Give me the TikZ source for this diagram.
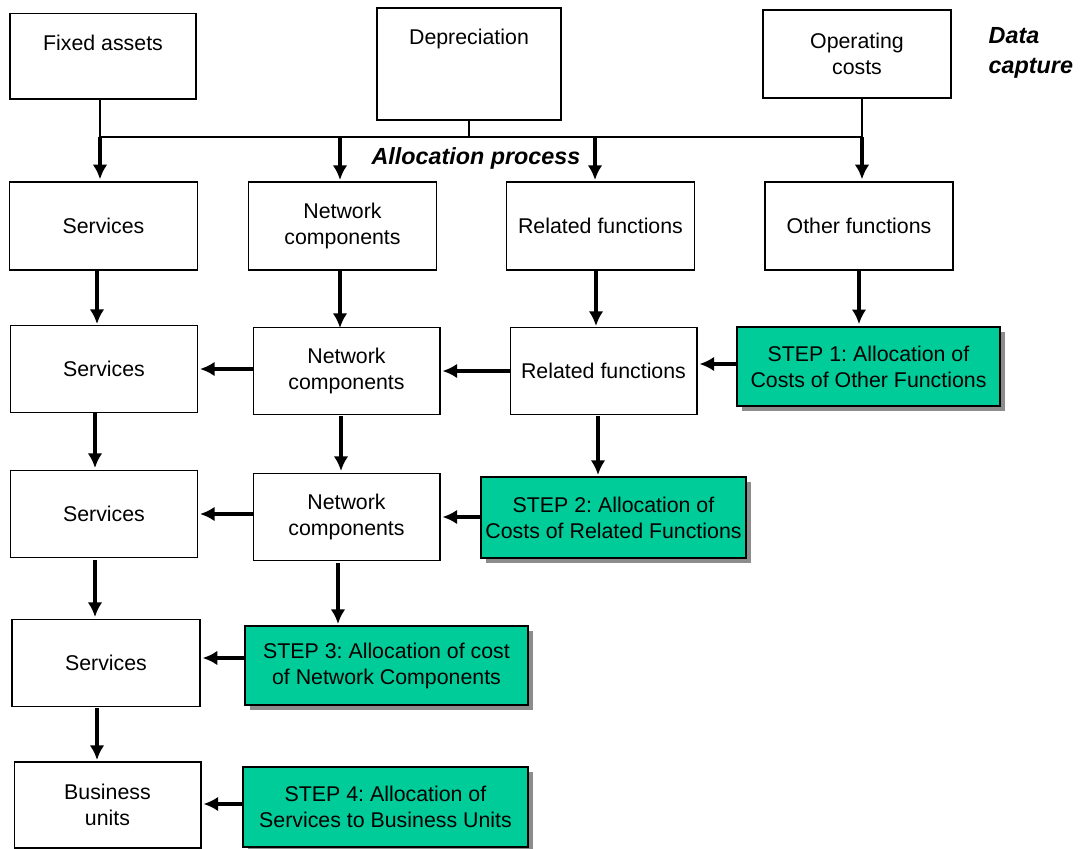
\documentclass[tikz,border=0pt]{standalone}
\usepackage{fontspec}
\setmainfont{Liberation Sans}
\usetikzlibrary{arrows.meta,shadows}
\definecolor{stepgreen}{RGB}{0,204,153}
\frenchspacing

\begin{document}
\begin{tikzpicture}[x=0.75pt,y=-0.75pt,>={Latex[length=11pt,width=11pt]},
    font=\fontsize{16pt}{19.5pt}\selectfont,
    box/.style={draw,line width=1pt,fill=white,align=center,inner sep=0pt,minimum width=140pt,minimum height=65pt},
    stepbox/.style={draw,line width=1.5pt,fill=stepgreen,align=center,inner sep=0pt,minimum height=60pt,
        general shadow={fill=black!45,shadow xshift=3.5pt,shadow yshift=-3.5pt}},
    conn/.style={->,line width=2.8pt,shorten >=1.5pt},
    feed/.style={line width=0.9pt}]
                \useasboundingbox (0,0) rectangle (1085,849);
                % data capture
                \node[box,minimum width=139.5pt,minimum height=64pt,label={[anchor=center,yshift=-22.5pt]north:Fixed assets}] (fixed) at (103,56.5) {};
                \node[box,minimum width=138pt,minimum height=84pt,label={[anchor=center,yshift=-24pt]north:Depreciation}] (dep) at (469,64) {};
                \node[box,minimum width=141pt,minimum height=66pt] (opc) at (857,54) {Operating\\costs};
                \node[align=left,anchor=west,font=\fontsize{17.5pt}{22.5pt}\selectfont\bfseries\itshape] (cap) at (984,53) {Data\\capture};
                \coordinate (busL) at (100,137);
                \coordinate (busR) at (862,137);
                \draw[feed] (fixed.south -| busL) -- (busL) -- (busR) -- (busR |- opc.south);
                \draw[feed] (dep.south) -- (dep.south |- busL);
                \node[font=\fontsize{17.5pt}{19.5pt}\selectfont\bfseries\itshape] (alloc) at (476,158) {Allocation process};
                % allocation rows
                \node[box,minimum width=141pt,minimum height=66pt] (srvA) at (103.5,226) {Services};
                \node[box,minimum width=141pt,minimum height=66pt] (ncA) at (342.5,226) {Network\\components};
                \node[box,minimum width=141pt,minimum height=66pt] (rfA) at (600.5,226) {Related functions};
                \node[box,minimum width=141pt,minimum height=66pt] (ofA) at (859,226) {Other functions};
                \draw[conn] (busL) -- (busL |- srvA.north);
                \draw[conn] (340,137) -- (340,182);
                \draw[conn] (595,137) -- (595,182);
                \draw[conn] (busR) -- (busR |- ofA.north);

                \node[box] (srvB) at (104,369) {Services};
                \node[box] (ncB) at (346.5,371) {Network\\components};
                \node[box] (rfB) at (603.5,371) {Related functions};
                \node[stepbox,minimum width=197pt,minimum height=59pt] (step1) at (868.5,366.5) {STEP 1: Allocation of\\Costs of Other Functions};
                \draw[conn] (97,270) -- (97,326);
                \draw[conn] (340,270) -- (340,330);
                \draw[conn] (596,271) -- (596,328);
                \draw[conn] (ofA.south) -- (ofA.south |- step1.north);
                \draw[conn] (ncB.west |- srvB.east) -- (srvB.east);
                \draw[conn] (rfB.west) -- (ncB.east);
                \draw[conn] (step1.west |- 0,364) -- (rfB.east |- 0,364);

                \node[box] (srvC) at (104,514) {Services};
                \node[box] (ncC) at (346.5,517) {Network\\components};
                \node[stepbox,minimum width=199pt,minimum height=61pt] (step2) at (613.5,517.5) {STEP 2: Allocation of\\Costs of Related Functions};
                \draw[conn] (95,413) -- (95,470);
                \draw[conn] (341,416) -- (341,473);
                \draw[conn] (598,416) -- (598,477);
                \draw[conn] (ncC.west |- srvC.east) -- (srvC.east);
                \draw[conn] (step2.west |- ncC.east) -- (ncC.east);

                \node[box,minimum width=141pt] (srvD) at (106,663) {Services};
                \node[stepbox,minimum width=212pt,minimum height=59pt] (step3) at (386.5,665.5) {STEP 3: Allocation of cost\\of Network Components};
                \draw[conn] (95,560) -- (95,619);
                \draw[conn] (338,563) -- (338,626);
                \draw[conn] (step3.west |- 0,658) -- (srvD.east |- 0,658);

                \node[box,minimum width=140pt,minimum height=64.5pt] (bu) at (107.5,805) {Business\\units};
                \node[stepbox,minimum width=214pt,minimum height=60pt] (step4) at (385.5,807) {STEP 4: Allocation of\\Services to Business Units};
                \draw[conn] (97,708) -- (97,762);
                \draw[conn] (step4.west |- 0,804) -- (bu.east |- 0,804);
            \end{tikzpicture}
\end{document}
